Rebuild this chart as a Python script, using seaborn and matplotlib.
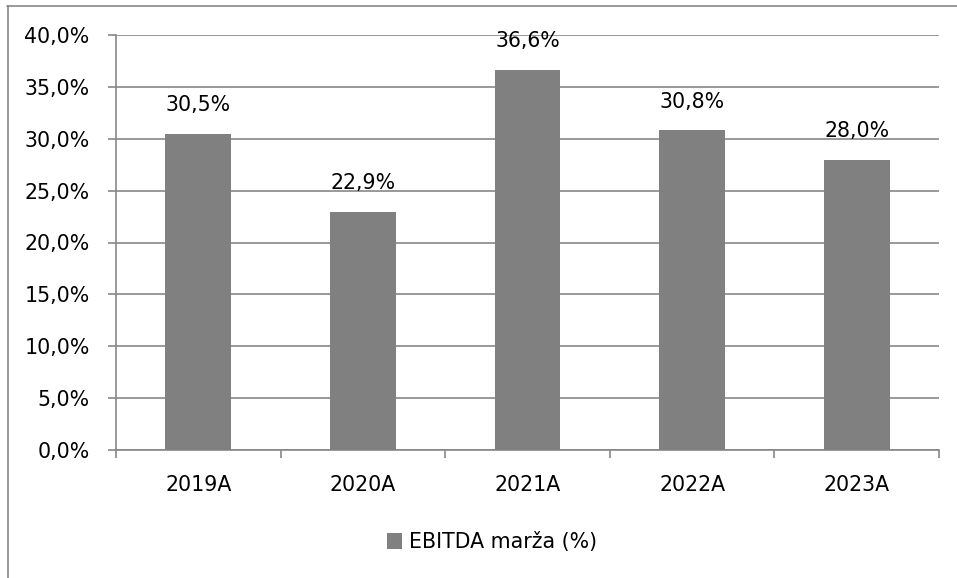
import matplotlib
matplotlib.use("Agg")
import matplotlib.pyplot as plt
import seaborn as sns
import numpy as np
from matplotlib.ticker import FuncFormatter, FixedLocator, MultipleLocator
from matplotlib.lines import Line2D
from matplotlib.patches import Patch

categories = ["2019A", "2020A", "2021A", "2022A", "2023A"]
values = [30.5, 22.9, 36.6, 30.8, 28.0]
value_labels = ["30,5%", "22,9%", "36,6%", "30,8%", "28,0%"]
series_name = "EBITDA marža (%)"

sns.set_theme(style="white")
plt.rcParams["font.family"] = ["DejaVu Sans"]

GRAY = "#808080"
LINE = "#878787"
FS = 14.8

fig = plt.figure(figsize=(9.57, 5.78), dpi=100)
ax = fig.add_axes([116/957, 1-450/578, (939-116)/957, (450-35)/578])

sns.barplot(x=categories, y=values, color=GRAY, width=0.4, saturation=1,
            ax=ax, zorder=3, edgecolor="none")

ax.set_ylim(0, 40)
ax.set_xlim(-0.5, len(categories) - 0.5)
ax.yaxis.set_major_locator(MultipleLocator(5))
ax.yaxis.set_major_formatter(FuncFormatter(lambda v, p: f"{v:.1f}%".replace(".", ",")))
ax.grid(axis="y", color=LINE, linewidth=1.2, zorder=0)
ax.grid(axis="x", visible=False)

for s in ["top", "right"]:
    ax.spines[s].set_visible(False)
for s in ["left", "bottom"]:
    ax.spines[s].set_color(LINE)
    ax.spines[s].set_linewidth(1.2)

ax.tick_params(axis="y", which="major", length=6, width=1.2, color=LINE,
               pad=13, labelsize=FS, left=True)
ax.tick_params(axis="x", which="major", length=0, pad=18, labelsize=FS)
ax.xaxis.set_minor_locator(FixedLocator(np.arange(-0.5, len(categories), 1.0)))
ax.tick_params(axis="x", which="minor", length=6, width=1.2, color=LINE,
               bottom=True, direction="out")
ax.set_xlabel("")
ax.set_ylabel("")
for lab in ax.get_yticklabels() + ax.get_xticklabels():
    lab.set_color("black")

for i, (v, t) in enumerate(zip(values, value_labels)):
    ax.annotate(t, (i, v), xytext=(0, 16.5), textcoords="offset points",
                ha="center", va="baseline", fontsize=FS, color="black", zorder=5)

handle = Patch(facecolor=GRAY, edgecolor="none")
leg = fig.legend([handle], [series_name], loc="center", bbox_to_anchor=(0.514, 0.062),
                 frameon=False, fontsize=FS, handlelength=0.75, handleheight=0.75,
                 handletextpad=0.3)
for t in leg.get_texts():
    t.set_color("black")

# outer chart frame (top and left edges visible)
fig.add_artist(Line2D([7.5/957, 1], [1-5.5/578, 1-5.5/578], transform=fig.transFigure,
                      color=LINE, linewidth=1.2))
fig.add_artist(Line2D([8/957, 8/957], [0, 1-5.5/578], transform=fig.transFigure,
                      color=LINE, linewidth=1.2))

fig.savefig("out.png", dpi=100, facecolor="white")
